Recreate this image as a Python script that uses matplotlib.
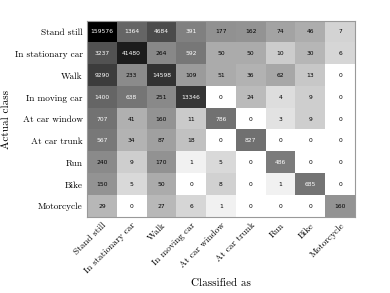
import numpy as np
import matplotlib
matplotlib.use("Agg")
import matplotlib.pyplot as plt

# classes (rows = actual, cols = classified)
classes = ["Stand still", "In stationary car", "Walk", "In moving car",
           "At car window", "At car trunk", "Run", "Bike", "Motorcycle"]

row_stand_still = [159576, 1364, 4684, 391, 177, 162, 74, 46, 7]
row_stationary_car = [3237, 41480, 264, 592, 50, 50, 10, 30, 6]
row_walk = [9290, 233, 14598, 109, 51, 36, 62, 13, 0]
row_moving_car = [1400, 638, 251, 13346, 0, 24, 4, 9, 0]
row_car_window = [707, 41, 160, 11, 786, 0, 3, 9, 0]
row_car_trunk = [567, 34, 87, 18, 0, 827, 0, 0, 0]
row_run = [240, 9, 170, 1, 5, 0, 486, 0, 0]
row_bike = [150, 5, 50, 0, 8, 0, 1, 685, 0]
row_motorcycle = [29, 0, 27, 6, 1, 0, 0, 0, 160]

cm = np.array([row_stand_still, row_stationary_car, row_walk, row_moving_car,
               row_car_window, row_car_trunk, row_run, row_bike, row_motorcycle])

plt.rcParams["font.family"] = "cmr10"
plt.rcParams["axes.formatter.use_mathtext"] = True

fig = plt.figure(figsize=(3.9, 2.93), dpi=100)
ax = fig.add_axes([0.223, 0.259, 0.687, 0.669])

# log scaled grey shading
shade = np.log1p(cm) / np.log1p(cm.max())
ax.imshow(shade, cmap="gray_r", vmin=0, vmax=1, aspect="auto",
          interpolation="nearest")

for i in range(cm.shape[0]):
    for j in range(cm.shape[1]):
        v = cm[i, j]
        col = "white" if v > 300 else "black"
        ax.text(j, i, str(v), ha="center", va="center", fontsize=4.3,
                color=col, family="DejaVu Sans")

ax.set_xticks(range(len(classes)))
ax.set_yticks(range(len(classes)))
ax.set_xticklabels(classes, rotation=45, ha="right", rotation_mode="anchor",
                   fontsize=6.7)
ax.set_yticklabels(classes, fontsize=6.7)
ax.tick_params(length=0, pad=3)
for s in ax.spines.values():
    s.set_color("#999999")
    s.set_linewidth(0.8)

ax.set_xlabel("Classified as", fontsize=8, labelpad=2)
ax.set_ylabel("Actual class", fontsize=8, labelpad=3)

fig.savefig("out.png", dpi=100)
